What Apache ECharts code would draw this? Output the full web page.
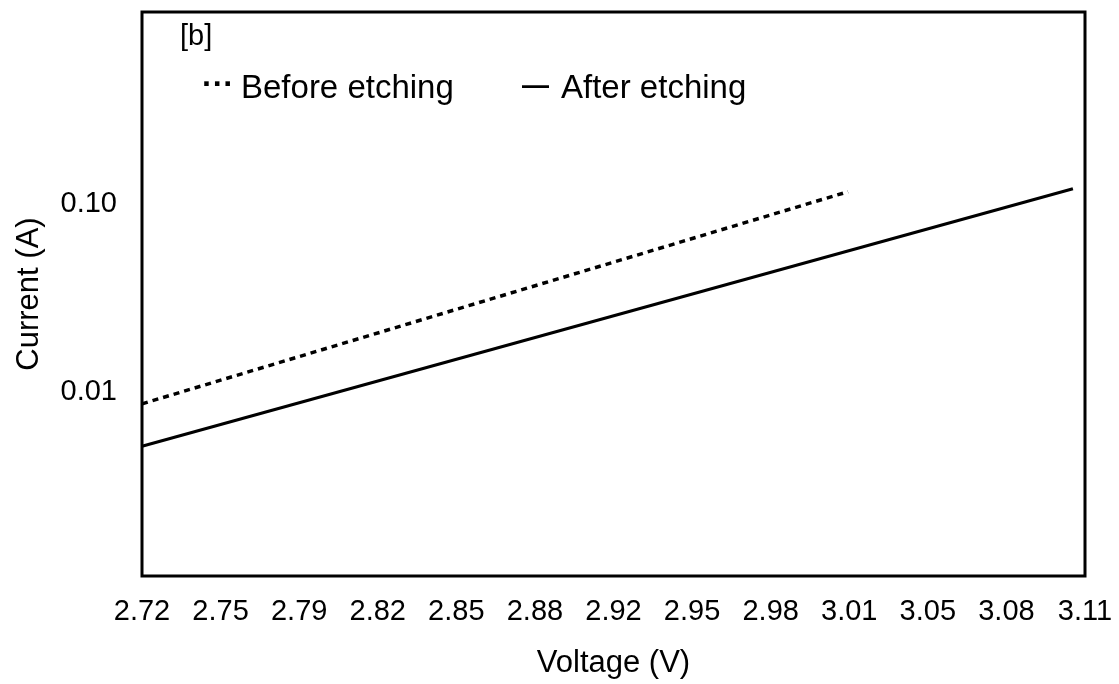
<!DOCTYPE html>
<html>
<head>
<meta charset="utf-8">
<script src="https://cdn.jsdelivr.net/npm/echarts@6/dist/echarts.min.js"></script>
<style>
html,body{margin:0;padding:0;background:#fff;}
#chart{width:1119px;height:684px;}
</style>
</head>
<body>
<div id="chart"></div>
<script>
// Voltage (V) / Current (A) endpoints
var beforeVoltage = [2.72, 3.012];
var beforeCurrent = [0.00824, 0.1107];
var afterVoltage = [2.72, 3.105];
var afterCurrent = [0.00490, 0.1148];

var xTickValues = [2.72, 2.7525, 2.785, 2.8175, 2.85, 2.8825, 2.915, 2.9475, 2.98, 3.0125, 3.045, 3.0775, 3.11];
var xTickLabels = ['2.72','2.75','2.79','2.82','2.85','2.88','2.92','2.95','2.98','3.01','3.05','3.08','3.11'];
var yTickLabels = {'-2':'0.01','-1':'0.10'};

var seriesNames = ['Before etching', 'After etching'];
var panelLabel = '[b]';

function pairs(xs, ys){ return xs.map(function(x,i){ return [x, ys[i]]; }); }

var FONT = '"Liberation Sans", Arial, Helvetica, sans-serif';
var chart = echarts.init(document.getElementById('chart'), null, {renderer:'canvas'});
chart.setOption({
  animation:false,
  backgroundColor:'#fff',
  grid:{left:142, right:34, top:12, bottom:107, show:true, borderColor:'#000', borderWidth:3, backgroundColor:'transparent'},
  xAxis:{
    type:'value', min:2.72, max:3.11,
    name:'Voltage (V)', nameLocation:'middle', nameGap:72,
    nameTextStyle:{fontFamily:FONT, fontSize:31, color:'#000'},
    axisLine:{show:false}, axisTick:{show:false}, splitLine:{show:false},
    axisLabel:{
      customValues:xTickValues, margin:21, fontFamily:FONT, fontSize:29, color:'#000',
      formatter:function(v){
        var best=0, d=1e9;
        xTickValues.forEach(function(t,i){ var e=Math.abs(t-v); if(e<d){d=e;best=i;} });
        return xTickLabels[best];
      }
    }
  },
  yAxis:{
    type:'log', logBase:10, min:0.001, max:1,
    name:'Current (A)', nameLocation:'middle', nameGap:97, nameRotate:90,
    nameTextStyle:{fontFamily:FONT, fontSize:31, color:'#000'},
    axisLine:{show:false}, axisTick:{show:false}, splitLine:{show:false},
    axisLabel:{
      margin:25, fontFamily:FONT, fontSize:29, color:'#000',
      rich:{t:{fontFamily:FONT, fontSize:29, color:'#000', padding:[8,0,0,0]}},
      formatter:function(v){
        var k = String(Math.round(Math.log10(v)));
        return yTickLabels[k] ? '{t|' + yTickLabels[k] + '}' : '';
      }
    }
  },
  series:[
    {name:seriesNames[0], type:'line', data:pairs(beforeVoltage, beforeCurrent), showSymbol:false, symbol:'none',
     lineStyle:{color:'#000', width:3.5, type:[6,5]}},
    {name:seriesNames[1], type:'line', data:pairs(afterVoltage, afterCurrent), showSymbol:false, symbol:'none',
     lineStyle:{color:'#000', width:3, type:'solid'}}
  ],
  graphic:[
    {type:'text', x:180, y:37, style:{text:panelLabel, font:'29px '+FONT, fill:'#000', verticalAlign:'middle'}},
    {type:'text', x:202, y:85, style:{text:'\u00b7\u00b7\u00b7', font:'bold 32px '+FONT, fill:'#000', verticalAlign:'middle'}},
    {type:'text', x:241, y:89, style:{text:seriesNames[0], font:'33px '+FONT, fill:'#000', verticalAlign:'middle'}},
    {type:'text', x:522, y:87, style:{text:'\u2014', font:'bold 27px '+FONT, fill:'#000', verticalAlign:'middle'}},
    {type:'text', x:561, y:89, style:{text:seriesNames[1], font:'33px '+FONT, fill:'#000', verticalAlign:'middle'}}
  ]
});
</script>
</body>
</html>
